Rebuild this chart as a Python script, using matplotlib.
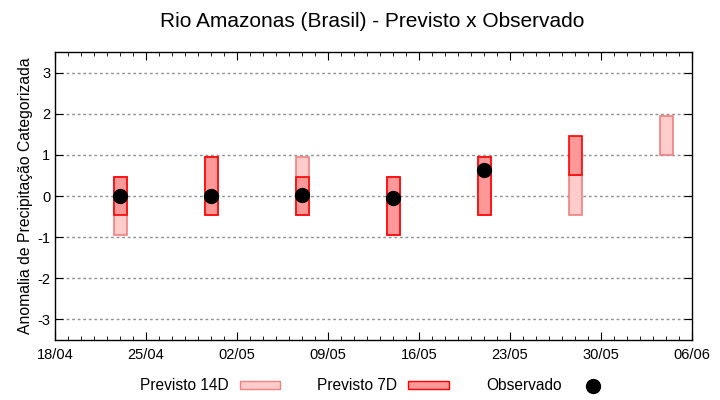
import datetime as dt
import matplotlib
matplotlib.use("Agg")
import matplotlib.pyplot as plt
import matplotlib.dates as mdates
from matplotlib.patches import Patch
from matplotlib.lines import Line2D

plt.rcParams['font.family'] = ['Liberation Sans', 'DejaVu Sans']
plt.rcParams['axes.unicode_minus'] = False

# Forecast dates
datas = ['2021-04-23', '2021-04-30', '2021-05-07', '2021-05-14',
         '2021-05-21', '2021-05-28', '2021-06-04']

# Previsto 14D: lower / upper limits
p14_min = [-0.95, -0.45, -0.45, -0.95, -0.45, -0.45, 1.0]
p14_max = [0.45, 0.95, 0.95, 0.45, 0.95, 0.5, 1.95]

# Previsto 7D: lower / upper limits (None = no forecast)
p7_min = [-0.45, -0.45, -0.45, -0.95, -0.45, 0.5, None]
p7_max = [0.45, 0.95, 0.45, 0.45, 0.95, 1.45, None]

# Observado
obs_datas = ['2021-04-23', '2021-04-30', '2021-05-07', '2021-05-14', '2021-05-21']
obs = [0.0, 0.0, 0.02, -0.05, 0.63]

x = [dt.datetime.strptime(d, '%Y-%m-%d') for d in datas]
xo = [dt.datetime.strptime(d, '%Y-%m-%d') for d in obs_datas]

fig = plt.figure(figsize=(7.2, 4.0), dpi=100)
ax = fig.add_axes([55 / 720, 60 / 400, 637 / 720, 288 / 400])

# 14D bars
ax.bar(x, [b - a for a, b in zip(p14_min, p14_max)], bottom=p14_min, width=1,
       color='#ffcccc', edgecolor='#f08080', linewidth=1.2, zorder=2)

# 7D bars
x7 = [xi for xi, v in zip(x, p7_min) if v is not None]
lo7 = [v for v in p7_min if v is not None]
hi7 = [v for v in p7_max if v is not None]
ax.bar(x7, [b - a for a, b in zip(lo7, hi7)], bottom=lo7, width=1,
       color='#ff9999', edgecolor='#ff0000', linewidth=1.2, zorder=3)

# observed
ax.plot(xo, obs, 'o', color='black', markersize=10, zorder=4)

ax.set_xlim(dt.datetime(2021, 4, 18), dt.datetime(2021, 6, 6))
ax.set_ylim(-3.5, 3.5)
ax.set_yticks([-3, -2, -1, 0, 1, 2, 3])
ax.set_xticks([dt.datetime(2021, 4, 18) + dt.timedelta(days=7 * i) for i in range(8)])
ax.xaxis.set_minor_locator(mdates.DayLocator())
ax.xaxis.set_major_formatter(mdates.DateFormatter('%d/%m'))

ax.grid(axis='y', color='#909090', linestyle=(0, (2, 2)), linewidth=1, zorder=0)
ax.tick_params(which='both', direction='in', top=True, right=True, labelsize=10.5)
ax.tick_params(which='major', length=6)
ax.tick_params(which='minor', length=3)
ax.tick_params(axis='x', pad=6)
for s in ax.spines.values():
    s.set_linewidth(1)

ax.set_ylabel('Anomalia de Precipitação Categorizada', fontsize=11.3, labelpad=3)
fig.suptitle('Rio Amazonas (Brasil) - Previsto x Observado', fontsize=15,
             x=0.517, y=0.97)

handles = [
    Patch(facecolor='#ffcccc', edgecolor='#f08080', label='Previsto 14D'),
    Patch(facecolor='#ff9999', edgecolor='#ff0000', label='Previsto 7D'),
    Line2D([], [], marker='o', color='black', linestyle='none', markersize=10, label='Observado'),
]
fig.legend(handles=handles, loc='center', bbox_to_anchor=(0.523, 0.035), ncol=3,
           frameon=False, markerfirst=False, fontsize=11.2, handlelength=2.6,
           handleheight=0.45, columnspacing=2.4, handletextpad=0.7)

fig.savefig('out.png', dpi=100)
